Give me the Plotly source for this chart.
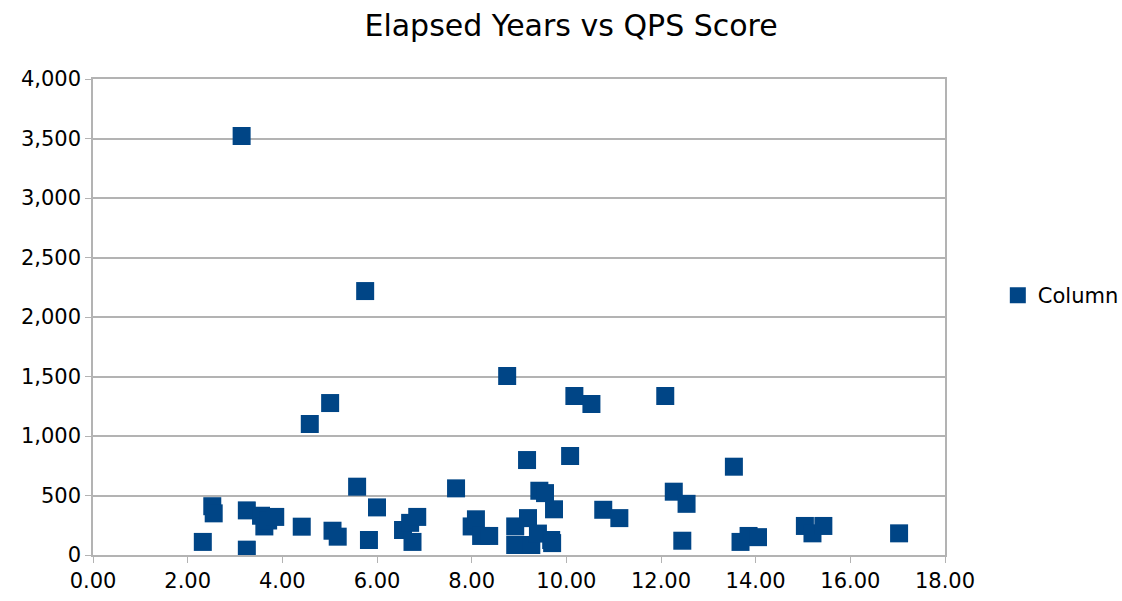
import plotly.graph_objects as go

# Elapsed years (x) and QPS score (y)
elapsed_years = [
    2.32, 2.52, 2.55, 3.14, 3.25, 3.25, 3.55, 3.62, 3.70, 3.85,
    4.41, 4.58, 5.01, 5.06, 5.17, 5.58, 5.75, 5.83, 6.00,
    6.55, 6.70, 6.75, 6.85, 7.67, 8.00, 8.09, 8.20, 8.37,
    8.75, 8.92, 8.92, 9.17, 9.19, 9.26, 9.40, 9.43, 9.55, 9.68, 9.74, 9.70,
    10.08, 10.17, 10.53, 10.78, 11.12,
    12.09, 12.27, 12.45, 12.54, 13.54, 13.68, 13.85, 14.05,
    15.04, 15.20, 15.43, 17.03,
]
qps_score = [
    110, 410, 350, 3521, 375, 45, 330, 240, 290, 320,
    238, 1101, 1277, 204, 154, 574, 2218, 126, 400,
    210, 270, 110, 320, 560, 240, 300, 160, 160,
    1504, 240, 84, 798, 310, 84, 180, 540, 520, 126, 384, 100,
    832, 1336, 1269, 380, 310,
    1336, 532, 120, 430, 742, 110, 160, 150,
    244, 182, 244, 182,
]

series_name = "Column"
chart_title = "Elapsed Years vs QPS Score"

fig = go.Figure(
    go.Scatter(
        x=elapsed_years,
        y=qps_score,
        mode="markers",
        name=series_name,
        marker=dict(symbol="square", size=18, color="#004586",
                    line=dict(width=0)),
    )
)

fig.update_layout(
    width=1122,
    height=601,
    paper_bgcolor="white",
    plot_bgcolor="white",
    font=dict(family="DejaVu Sans, Liberation Sans, sans-serif", color="#000000"),
    title=dict(text=chart_title, x=0.509, xanchor="center", y=0.958,
               yanchor="middle", font=dict(size=30)),
    margin=dict(l=93, r=177, t=79, b=46, autoexpand=False),
    showlegend=True,
    legend=dict(x=1.062, xanchor="left", y=0.545, yanchor="middle",
                font=dict(size=21), bgcolor="rgba(0,0,0,0)"),
)

fig.update_xaxes(
    range=[0, 18], tick0=0, dtick=2, tickformat=".2f",
    showgrid=False, zeroline=False,
    showline=True, linecolor="#b3b3b3", linewidth=1.5, mirror=True,
    ticks="outside", ticklen=6, tickcolor="#b3b3b3",
    tickfont=dict(size=21),
)
fig.update_yaxes(
    range=[0, 4000], tick0=0, dtick=500, tickformat=",",
    showgrid=True, gridcolor="#b3b3b3", gridwidth=1.5, zeroline=False,
    showline=True, linecolor="#b3b3b3", linewidth=1.5, mirror=True,
    ticks="outside", ticklen=6, tickcolor="#b3b3b3",
    tickfont=dict(size=21),
)

fig.write_html(
    "out.html",
    config={"displayModeBar": False},
    post_script="document.body.style.margin='0';document.body.style.padding='0';",
)
